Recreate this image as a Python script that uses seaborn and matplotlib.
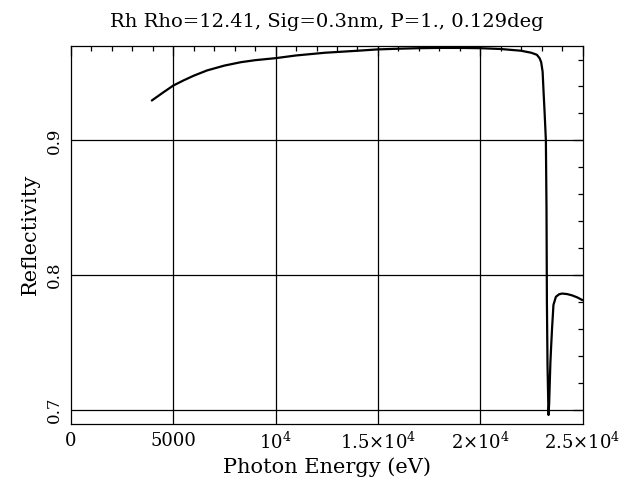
import numpy as np
import pandas as pd
import matplotlib
matplotlib.use("Agg")
import matplotlib.pyplot as plt
from matplotlib.ticker import FixedLocator, MultipleLocator, FixedFormatter
import seaborn as sns

# values
energy = [3950, 4500, 5000, 5500, 6000, 6650, 7500, 8300, 9000, 10000,
          11000, 12400, 14000, 15000, 16000, 17000, 18000, 19000, 20000,
          21000, 22000, 22500, 22770, 22900, 22980, 23050, 23100, 23150,
          23180, 23210, 23240, 23260, 23290, 23320, 23340, 23370, 23400,
          23430, 23470, 23510, 23580, 23700, 23850, 24000, 24250, 24500,
          24750, 25000]
reflectivity = [0.9296, 0.9355, 0.9407, 0.9445, 0.9480, 0.9519, 0.9555,
                0.9580, 0.9595, 0.9610, 0.9630, 0.9650, 0.9665, 0.9675,
                0.9680, 0.9684, 0.9686, 0.9686, 0.9684, 0.9678, 0.9665,
                0.9650, 0.9635, 0.9610, 0.9580, 0.9510, 0.9350, 0.9200,
                0.9100, 0.9000, 0.8500, 0.7800, 0.7330, 0.7100, 0.6963,
                0.7050, 0.7200, 0.7350, 0.7480, 0.7600, 0.7780, 0.7840,
                0.7858, 0.7864, 0.7860, 0.7850, 0.7835, 0.7815]

x_ticks = [0, 5000, 10000, 15000, 20000, 25000]
x_ticklabels = ["0", "5000", r"$10^4$", r"$1.5{\times}10^4$",
                r"$2{\times}10^4$", r"$2.5{\times}10^4$"]
y_ticks = [0.7, 0.8, 0.9]
y_ticklabels = ["0.7", "0.8", "0.9"]

df = pd.DataFrame({"energy": energy, "refl": reflectivity})

sns.set_theme(style="white")
plt.rcParams["font.family"] = ["DejaVu Serif"]
plt.rcParams["mathtext.fontset"] = "dejavuserif"

fig = plt.figure(figsize=(6.24, 4.86), dpi=100)
ax = fig.add_axes([0.1138, 0.1286, 0.8197, 0.7767])

sns.lineplot(data=df, x="energy", y="refl", ax=ax, color="black",
             linewidth=1.6, estimator=None, sort=False)

ax.set_xlim(0, 25000)
ax.set_ylim(0.69, 0.97)

# grid at the major ticks
for xv in x_ticks[1:-1]:
    ax.axvline(xv, color="black", linewidth=0.9, zorder=1)
for yv in y_ticks:
    ax.axhline(yv, color="black", linewidth=0.9, zorder=1)

ax.xaxis.set_major_locator(FixedLocator(x_ticks))
ax.xaxis.set_major_formatter(FixedFormatter(x_ticklabels))
ax.xaxis.set_minor_locator(MultipleLocator(1000))
ax.yaxis.set_major_locator(FixedLocator(y_ticks))
ax.yaxis.set_major_formatter(FixedFormatter(y_ticklabels))
ax.yaxis.set_minor_locator(MultipleLocator(0.02))

ax.tick_params(which="both", direction="in", top=True, right=True,
               colors="black", width=0.9)
ax.tick_params(which="major", length=7, pad=6)
ax.tick_params(axis="x", which="major", labelsize=13)
ax.tick_params(axis="y", which="major", labelsize=12)
ax.tick_params(which="minor", length=3.5)
for lab in ax.get_yticklabels():
    lab.set_rotation(90)
    lab.set_va("center")

for sp in ax.spines.values():
    sp.set_color("black")
    sp.set_linewidth(0.9)

ax.set_xlabel("Photon Energy (eV)", fontsize=15, color="black", labelpad=3)
ax.set_ylabel("Reflectivity", fontsize=15, color="black", labelpad=4)
ax.set_title("Rh Rho=12.41, Sig=0.3nm, P=1., 0.129deg", fontsize=14,
             color="black", pad=14)

fig.savefig("out.png", dpi=100, facecolor="white")
